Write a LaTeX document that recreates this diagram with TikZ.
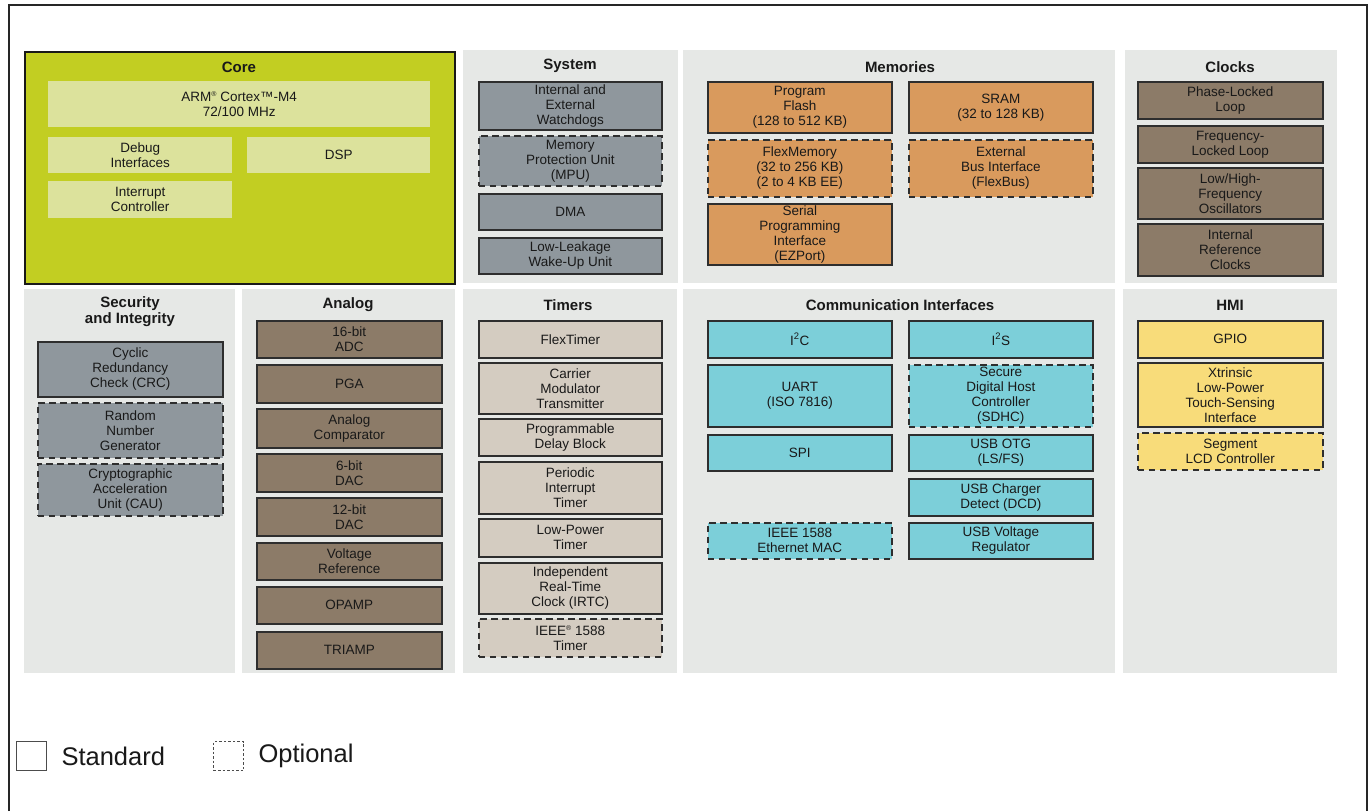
\documentclass[tikz,border=0pt]{standalone}
\usepackage{fontspec}
\setmainfont{Liberation Sans}
\definecolor{panelgray}{HTML}{E6E8E6}
\definecolor{coregreen}{HTML}{C2CE22}
\definecolor{corelight}{HTML}{DCE29C}
\definecolor{slate}{HTML}{8F979D}
\definecolor{memorange}{HTML}{D99A5D}
\definecolor{brownbox}{HTML}{8C7B68}
\definecolor{tanbox}{HTML}{D4CCC1}
\definecolor{cyanbox}{HTML}{7CCFD9}
\definecolor{yellowbox}{HTML}{F8DC7A}
\definecolor{boxline}{HTML}{2E2E2E}
\newcommand{\regmark}{\raisebox{0.65ex}{\fontsize{7}{7}\selectfont ®}}
\tikzset{
  blk/.style={draw=boxline, line width=1.6pt, anchor=north west, align=center, inner sep=0pt, text=black!90, font=\fontsize{13.5}{15}\selectfont},
  optbox/.style={dash pattern=on 6.5pt off 4.5pt},
  corein/.style={fill=corelight, anchor=north west, align=center, inner sep=0pt, text=black!90, font=\fontsize{13.5}{15}\selectfont},
  ttl/.style={font=\fontsize{15}{16}\selectfont\bfseries, align=center, text=black!90},
  panel/.style={fill=panelgray},
  sysbox/.style={blk, fill=slate, minimum width=183pt},
  secbox/.style={blk, fill=slate, minimum width=185pt},
  membox/.style={blk, fill=memorange, minimum width=184pt},
  clkbox/.style={blk, fill=brownbox, minimum width=185pt},
  anabox/.style={blk, fill=brownbox, minimum width=185pt},
  tmrbox/.style={blk, fill=tanbox, minimum width=183pt},
  combox/.style={blk, fill=cyanbox, minimum width=184pt},
  hmibox/.style={blk, fill=yellowbox, minimum width=185pt}
}
\begin{document}
\begin{tikzpicture}[x=1pt,y=-1pt]
\useasboundingbox[fill=white] (0,0) rectangle (1372,811);
\draw[line width=2pt, black!85] (9,811) -- (9,5) -- (1367,5) -- (1367,811);

\fill[panel] (463,50) rectangle (678,283);
\fill[panel] (683,50) rectangle (1115,283);
\fill[panel] (1125,50) rectangle (1337,283);
\fill[panel] (24,289) rectangle (235,673);
\fill[panel] (242,289) rectangle (455,673);
\fill[panel] (463,289) rectangle (677,673);
\fill[panel] (683,289) rectangle (1115,673);
\fill[panel] (1123,289) rectangle (1337,673);

\node[draw=black!90, line width=2.2pt, fill=coregreen, anchor=north west, minimum width=430pt, minimum height=232pt, inner sep=0pt] (core) at (24,51) {};
\node[ttl] (coret) at (239,67) {Core};
\node[corein, minimum width=382pt, minimum height=46pt] (arm) at (48,81) {ARM\regmark{} Cortex™-M4\\72/100 MHz};
\node[corein, minimum width=184pt, minimum height=36pt] (dbg) at (48,137) {Debug\\Interfaces};
\node[corein, minimum width=183pt, minimum height=36pt] (dsp) at (247,137) {DSP};
\node[corein, minimum width=184pt, minimum height=37pt] (irq) at (48,181) {Interrupt\\Controller};

\node[ttl] (syst) at (570,66) {System};
\node[sysbox, minimum height=48pt] (wdog) at (478,81) {Internal and\\External\\Watchdogs};
\node[sysbox, optbox, minimum height=50pt] (mpu) at (478,135) {Memory\\Protection Unit\\(MPU)};
\node[sysbox, minimum height=36pt] (dma) at (478,193) {DMA};
\node[sysbox, minimum height=36pt] (llwu) at (478,237) {Low-Leakage\\Wake-Up Unit};

\node[ttl] (memt) at (900,67) {Memories};
\node[membox, minimum height=51pt] (pflash) at (707,81) {Program\\Flash\\(128 to 512 KB)};
\node[membox, minimum height=51pt] (sram) at (908,81) {SRAM\\(32 to 128 KB)};
\node[membox, optbox, minimum height=57pt] (flexmem) at (707,139) {FlexMemory\\(32 to 256 KB)\\(2 to 4 KB EE)};
\node[membox, optbox, minimum height=57pt] (flexbus) at (908,139) {External\\Bus Interface\\(FlexBus)};
\node[membox, minimum height=61pt] (ezport) at (707,203) {Serial\\Programming\\Interface\\(EZPort)};

\node[ttl] (clkt) at (1230,67) {Clocks};
\node[clkbox, minimum height=37pt] (pll) at (1137,81) {Phase-Locked\\Loop};
\node[clkbox, minimum height=37pt] (fll) at (1137,125) {Frequency-\\Locked Loop};
\node[clkbox, minimum height=51pt] (osc) at (1137,167) {Low/High-\\Frequency\\Oscillators};
\node[clkbox, minimum height=52pt] (irc) at (1137,223) {Internal\\Reference\\Clocks};

\node[ttl] (sect) at (130,312) {Security\\and Integrity};
\node[secbox, minimum height=55pt] (crc) at (37,341) {Cyclic\\Redundancy\\Check (CRC)};
\node[secbox, optbox, minimum height=55pt] (rng) at (37,402) {Random\\Number\\Generator};
\node[secbox, optbox, minimum height=52pt] (cau) at (37,463) {Cryptographic\\Acceleration\\Unit (CAU)};

\node[ttl] (anat) at (348,305) {Analog};
\node[anabox, minimum height=37pt] (adc) at (256,320) {16-bit\\ADC};
\node[anabox, minimum height=38pt] (pga) at (256,364) {PGA};
\node[anabox, minimum height=39pt] (cmp) at (256,408) {Analog\\Comparator};
\node[anabox, minimum height=38pt] (dacsix) at (256,453) {6-bit\\DAC};
\node[anabox, minimum height=38pt] (dactwelve) at (256,497) {12-bit\\DAC};
\node[anabox, minimum height=37pt] (vref) at (256,542) {Voltage\\Reference};
\node[anabox, minimum height=37pt] (opamp) at (256,586) {OPAMP};
\node[anabox, minimum height=37pt] (triamp) at (256,631) {TRIAMP};

\node[ttl] (tmrt) at (568,305) {Timers};
\node[tmrbox, minimum height=37pt] (ftm) at (478,320) {FlexTimer};
\node[tmrbox, minimum height=51pt] (cmt) at (478,362) {Carrier\\Modulator\\Transmitter};
\node[tmrbox, minimum height=37pt] (pdb) at (478,418) {Programmable\\Delay Block};
\node[tmrbox, minimum height=52pt] (pit) at (478,461) {Periodic\\Interrupt\\Timer};
\node[tmrbox, minimum height=38pt] (lptmr) at (478,518) {Low-Power\\Timer};
\node[tmrbox, minimum height=51pt] (irtc) at (478,562) {Independent\\Real-Time\\Clock (IRTC)};
\node[tmrbox, optbox, minimum height=38pt] (ieeetmr) at (478,618) {IEEE\regmark{} 1588\\Timer};

\node[ttl] (comt) at (900,305) {Communication Interfaces};
\node[combox, minimum height=37pt] (iic) at (707,320) {I\textsuperscript{2}C};
\node[combox, minimum height=37pt] (iis) at (908,320) {I\textsuperscript{2}S};
\node[combox, minimum height=62pt] (uart) at (707,364) {UART\\(ISO 7816)};
\node[combox, optbox, minimum height=62pt] (sdhc) at (908,364) {Secure\\Digital Host\\Controller\\(SDHC)};
\node[combox, minimum height=36pt] (spi) at (707,434) {SPI};
\node[combox, minimum height=36pt] (usbotg) at (908,434) {USB OTG\\(LS/FS)};
\node[combox, minimum height=37pt] (usbdcd) at (908,478) {USB Charger\\Detect (DCD)};
\node[combox, optbox, minimum height=36pt] (enet) at (707,522) {IEEE 1588\\Ethernet MAC};
\node[combox, minimum height=36pt] (usbvreg) at (908,522) {USB Voltage\\Regulator};

\node[ttl] (hmit) at (1230,305) {HMI};
\node[hmibox, minimum height=37pt] (gpio) at (1137,320) {GPIO};
\node[hmibox, minimum height=64pt] (tsi) at (1137,362) {Xtrinsic\\Low-Power\\Touch-Sensing\\Interface};
\node[hmibox, optbox, minimum height=37pt] (slcd) at (1137,432) {Segment\\LCD Controller};

\node[draw=black!70, line width=1.2pt, anchor=north west, minimum width=30pt, minimum height=29pt, inner sep=0pt] (stdkey) at (16,741) {};
\node[anchor=west, font=\fontsize{25.5}{28}\selectfont, text=black!90] (stdtxt) at (58,756) {Standard};
\node[draw=black!70, line width=1.2pt, dash pattern=on 2.5pt off 2pt, anchor=north west, minimum width=30pt, minimum height=29pt, inner sep=0pt] (optkey) at (213,741) {};
\node[anchor=west, font=\fontsize{25.5}{28}\selectfont, text=black!90] (opttxt) at (255,756) {Optional};
\end{tikzpicture}
\end{document}
